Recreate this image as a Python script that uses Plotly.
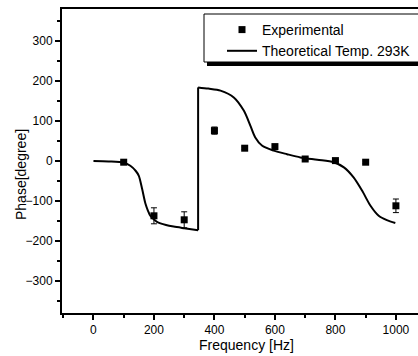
import plotly.graph_objects as go

# Measured phase at each drive frequency
exp_freq = [100, 200, 300, 400, 500, 600, 700, 800, 900, 1000]
exp_phase = [-3, -137, -147, 76, 32, 36, 5, 1, -3, -112]
exp_err = [3, 20, 20, 9, 3, 3, 3, 3, 3, 17]

# Theoretical phase curve at 293 K, split where the phase wraps (~346 Hz)
th_freq_low = [0, 50, 100, 122, 140, 150, 161, 172, 180, 188, 200, 210, 240, 265, 300, 346]
th_phase_low = [0, -1, -4, -12, -25, -37, -70, -107, -124, -137, -146, -152, -160, -164, -168, -173]
th_freq_high = [346, 380, 420, 464, 497, 519, 535, 558, 596, 640, 684, 740, 794, 828, 860,
                888, 916, 943, 970, 998]
th_phase_high = [184, 181, 176, 159, 126, 88, 59, 38, 26, 17, 9, 3, -3, -16, -41,
                 -74, -112, -137, -148, -155]

x_ticks = [0, 200, 400, 600, 800, 1000]
y_ticks = [-300, -200, -100, 0, 100, 200, 300]

FONT = "Liberation Sans, Arial, sans-serif"
line_style = dict(color="black", width=2)

# plot-area geometry in pixels, used to place the legend frame
L, T, B, W = 62, 9, 313, 356


def px_x(p):
    return (p - L) / W


def px_y(p):
    return 1 - (p - T) / (B - T)


fig = go.Figure()
fig.add_trace(go.Scatter(
    x=exp_freq, y=exp_phase, mode="markers", name="Experimental",
    marker=dict(symbol="square", size=7, color="black"),
    error_y=dict(type="data", array=exp_err, visible=True, color="black",
                 thickness=1, width=3),
))
fig.add_trace(go.Scatter(
    x=th_freq_low, y=th_phase_low, mode="lines", name="Theoretical Temp. 293K",
    legendgroup="th", line=dict(shape="spline", smoothing=0.8, **line_style),
))
fig.add_trace(go.Scatter(
    x=[th_freq_low[-1], th_freq_high[0]], y=[th_phase_low[-1], th_phase_high[0]],
    mode="lines", legendgroup="th", showlegend=False, line=line_style,
))
fig.add_trace(go.Scatter(
    x=th_freq_high, y=th_phase_high, mode="lines", legendgroup="th", showlegend=False,
    line=dict(shape="spline", smoothing=0.8, **line_style),
))

# legend frame with drop shadow
fig.add_shape(type="rect", xref="paper", yref="paper",
              x0=px_x(207), x1=px_x(430), y0=px_y(66), y1=px_y(18),
              fillcolor="black", line_width=0, layer="above")
fig.add_shape(type="rect", xref="paper", yref="paper",
              x0=px_x(204), x1=px_x(430), y0=px_y(62), y1=px_y(14),
              fillcolor="white", line=dict(color="black", width=1), layer="above")

fig.update_layout(
    width=418, height=356,
    margin=dict(l=L, r=0, t=T, b=356 - B),
    paper_bgcolor="white", plot_bgcolor="white",
    font=dict(family=FONT, color="black", size=12),
    showlegend=True,
    legend=dict(x=px_x(222), y=px_y(14), xanchor="left", yanchor="top",
                bgcolor="rgba(0,0,0,0)", borderwidth=0,
                font=dict(family=FONT, size=14, color="black"),
                tracegroupgap=0, itemwidth=30),
    annotations=[
        dict(text="Frequency [Hz]", xref="paper", yref="paper",
             x=px_x(246), y=px_y(345), showarrow=False,
             xanchor="center", yanchor="middle", font=dict(size=14)),
        dict(text="Phase[degree]", xref="paper", yref="paper", textangle=-90,
             x=px_x(21), y=px_y(175), showarrow=False,
             xanchor="center", yanchor="middle", font=dict(size=14)),
    ],
)
fig.update_xaxes(
    range=[-104, 1073], tickmode="array", tickvals=x_ticks,
    showgrid=False, zeroline=False,
    showline=True, linecolor="black", linewidth=2, mirror=True,
    ticks="outside", ticklen=5, tickwidth=1.5, tickcolor="black",
    minor=dict(tickmode="array", tickvals=[-100, 100, 300, 500, 700, 900],
               ticks="outside", ticklen=3, tickcolor="black"),
    tickfont=dict(size=12),
)
fig.update_yaxes(
    range=[-380, 380], tickmode="array", tickvals=y_ticks,
    showgrid=False, zeroline=False,
    showline=True, linecolor="black", linewidth=2,
    ticks="outside", ticklen=5, tickwidth=1.5, tickcolor="black",
    minor=dict(tickmode="array", tickvals=[-350, -250, -150, -50, 50, 150, 250, 350],
               ticks="outside", ticklen=3, tickcolor="black"),
    tickfont=dict(size=12),
)

fig.write_html("out.html")
